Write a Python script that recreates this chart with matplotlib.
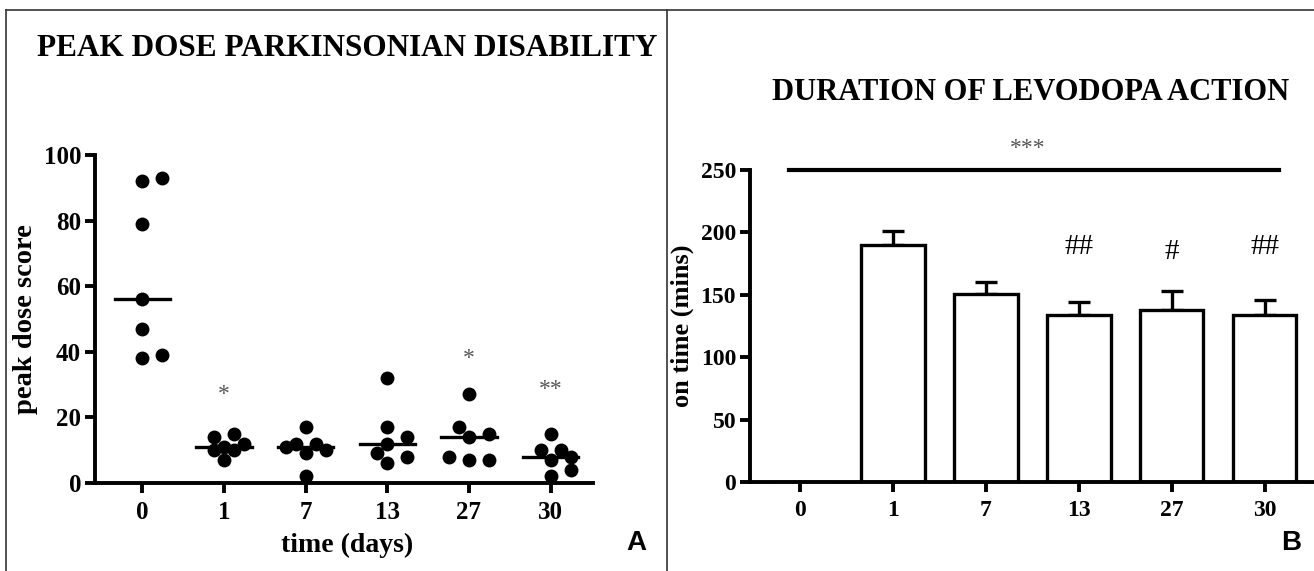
import numpy as np
import matplotlib
matplotlib.use("Agg")
import matplotlib.pyplot as plt
from matplotlib.lines import Line2D

# data
days = ["0", "1", "7", "13", "27", "30"]
score_d0 = [92, 93, 79, 56, 47, 38, 39]
score_d1 = [15, 14, 10, 12, 11, 10, 7]
score_d7 = [17, 10, 12, 12, 11, 9, 2]
score_d13 = [32, 17, 14, 12, 9, 8, 6]
score_d27 = [27, 15, 14, 17, 8, 7, 7]
score_d30 = [15, 10, 10, 8, 7, 4, 2]
scores = [score_d0, score_d1, score_d7, score_d13, score_d27, score_d30]
stars_a = ["", "*", "", "", "*", "**"]
stars_a_y = [0, 27, 0, 0, 38, 28.5]

on_time = [0, 190, 151, 134, 138, 134]
on_time_sem = [0, 11, 9, 10, 15, 12]
hash_b = ["", "", "", "##", "#", "##"]
hash_b_y = [0, 0, 0, 188, 184, 188]

serif = "Liberation Serif"
W, H = 1314, 571
fig = plt.figure(figsize=(W / 100, H / 100), dpi=100)

def style_axes(ax, fs):
    for s in ["top", "right"]:
        ax.spines[s].set_visible(False)
    for s in ["left", "bottom"]:
        ax.spines[s].set_linewidth(2.8)
    ax.tick_params(width=2.8, length=7, labelsize=fs)
    for lab in ax.get_xticklabels() + ax.get_yticklabels():
        lab.set_fontfamily(serif)
        lab.set_fontweight("bold")
        lab.set_fontsize(fs)

def swarm(ax, xc, vals, diam=12, step=10):
    # compact beeswarm in pixel space (at most 2 steps either side),
    # returns x positions in data units
    placed = []
    out = np.zeros(len(vals))
    x0 = ax.transData.transform((xc, 0))[0]
    inv = ax.transData.inverted()
    for j in np.argsort(vals, kind="stable"):
        y = ax.transData.transform((xc, vals[j]))[1]
        best, best_d = x0, -1
        for k in [0, 1, -1, 2, -2]:
            x = x0 + k * step
            d = min([np.hypot(x - px, y - py) for px, py in placed], default=1e9)
            if d >= diam:
                best = x
                break
            if d > best_d + 0.5:
                best, best_d = x, d
        placed.append((best, y))
        out[j] = inv.transform((best, y))[0]
    return out

# ---- panel A
axA = fig.add_axes([95 / W, 1 - 483 / H, 498 / W, 328 / H])
axA.set_xlim(-0.58, 5.52)
axA.set_ylim(0, 100)
axA.set_yticks([0, 20, 40, 60, 80, 100])
axA.set_xticks(range(len(days)))
axA.set_xticklabels(days)
style_axes(axA, 18)
axA.tick_params(axis="x", pad=6)
axA.tick_params(axis="y", pad=3)
for i, vals in enumerate(scores):
    xs = swarm(axA, i, vals)
    axA.scatter(xs, vals, s=100, color="black", zorder=3, clip_on=False, linewidths=0)
    axA.plot([i - 0.34, i + 0.34], [np.median(vals)] * 2, color="black", lw=2.4, zorder=4)
    if stars_a[i]:
        axA.text(i, stars_a_y[i], stars_a[i], ha="center", va="center",
                 fontsize=17, color="#555555", family=serif)
axA.set_ylabel("peak dose score", fontsize=20.5, fontweight="bold", family=serif, labelpad=4)
fig.text(347 / W, 1 - 545 / H, "time (days)", ha="center", va="center",
         fontsize=20, fontweight="bold", family=serif)
fig.text(347 / W, 1 - 48 / H, "PEAK DOSE PARKINSONIAN DISABILITY", ha="center", va="center",
         fontsize=22.5, fontweight="bold", family=serif)
fig.text(636 / W, 1 - 543 / H, "A", ha="center", va="center",
         fontsize=20, fontweight="bold", family="Liberation Sans")

# ---- panel B
axB = fig.add_axes([750 / W, 1 - 482 / H, 564 / W, 312 / H])
axB.set_xlim(-0.54, 5.53)
axB.set_ylim(0, 250)
axB.set_yticks([0, 50, 100, 150, 200, 250])
xb = np.arange(len(days))
axB.bar(xb, on_time, width=0.68, color="white", edgecolor="black", linewidth=2.4, zorder=2)
axB.errorbar(xb[1:], on_time[1:], yerr=[np.zeros(len(xb) - 1), on_time_sem[1:]],
             fmt="none", ecolor="black", elinewidth=2.4, capsize=8, capthick=2.4, zorder=1)
axB.set_xticks(xb)
axB.set_xticklabels(days)
style_axes(axB, 17)
axB.tick_params(axis="x", pad=6)
axB.tick_params(axis="y", pad=3)
axB.plot([-0.12, 5.15], [250, 250], color="black", lw=3, clip_on=False)
axB.text(2.45, 267, "***", ha="center", va="center", fontsize=17, color="#555555", family=serif)
for i, h in enumerate(hash_b):
    if h:
        axB.text(i, hash_b_y[i], h, ha="center", va="center", fontsize=21, family=serif)
axB.set_ylabel("on time (mins)", fontsize=19, fontweight="bold", family=serif, labelpad=5)
fig.text(1031 / W, 1 - 92 / H, "DURATION OF LEVODOPA ACTION", ha="center", va="center",
         fontsize=22, fontweight="bold", family=serif)
fig.text(1291 / W, 1 - 543 / H, "B", ha="center", va="center",
         fontsize=20, fontweight="bold", family="Liberation Sans")

# frame
fc = "#333333"
fig.add_artist(Line2D([6 / W, 1], [1 - 10 / H, 1 - 10 / H], color=fc, lw=1.2))
fig.add_artist(Line2D([6 / W, 6 / W], [0, 1 - 10 / H], color=fc, lw=1.2))
fig.add_artist(Line2D([667 / W, 667 / W], [0, 1 - 10 / H], color=fc, lw=1.2))

fig.savefig("out.png", dpi=100)
